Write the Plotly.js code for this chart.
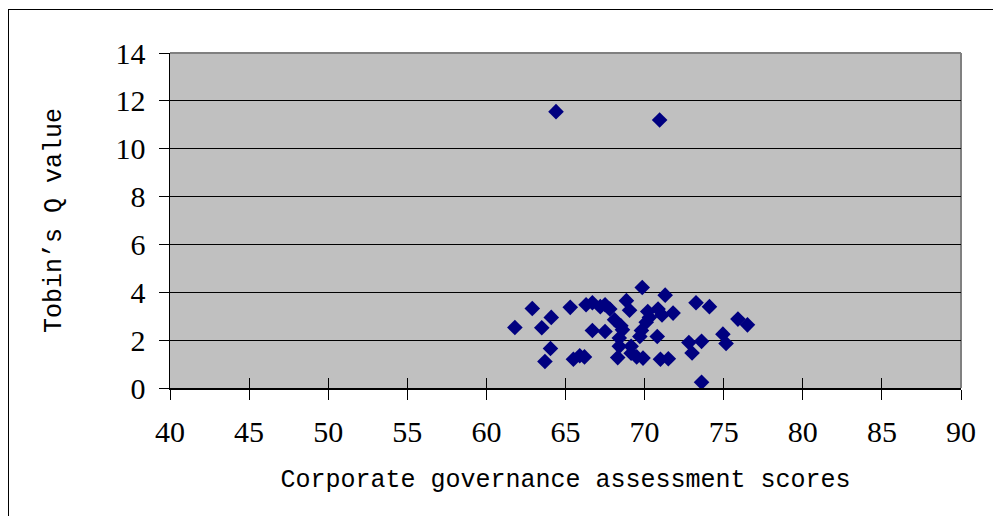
<!DOCTYPE html>
<html>
<head>
<meta charset="utf-8">
<script src="https://cdn.plot.ly/plotly-3.0.1.min.js"></script>
<style>
html,body{margin:0;padding:0;background:#fff;overflow:hidden;}
#wrap{position:relative;width:993px;height:516px;overflow:hidden;}
#chart{position:absolute;left:0;top:0;width:993px;height:516px;}
#frame{position:absolute;left:8px;top:9px;width:1100px;height:1100px;border-left:1.5px solid #000;border-top:1.5px solid #000;pointer-events:none;}
</style>
</head>
<body>
<div id="wrap"><div id="chart"></div><div id="frame"></div></div>
<script>
const xTitle = "Corporate governance assessment scores";
const yTitle = "Tobin\u2019s Q value";
const xTicks = [40,45,50,55,60,65,70,75,80,85,90];
const yTicks = [0,2,4,6,8,10,12,14];

const scores = [61.8,62.9,63.5,63.7,64.05,64.1,64.4,65.3,65.5,65.9,66.2,66.3,66.7,66.7,67.2,67.5,67.5,67.8,68.1,68.3,68.4,68.4,68.6,68.5,68.85,69.05,69.15,69.15,69.5,69.85,69.9,69.7,69.8,70.1,70.2,70.3,70.85,71.1,70.8,70.95,71.0,71.5,71.3,71.8,72.8,73.0,73.25,73.6,73.6,74.1,74.95,75.15,75.9,76.5];
const tobinQ = [2.53,3.32,2.52,1.11,1.65,2.95,11.55,3.37,1.2,1.35,1.3,3.48,3.56,2.4,3.4,3.48,2.36,3.3,2.85,1.27,2.09,1.74,2.43,2.6,3.65,3.25,1.74,1.45,1.3,4.2,1.25,2.15,2.4,2.75,3.2,2.95,3.3,3.05,2.15,11.2,1.2,1.22,3.88,3.13,1.9,1.46,3.56,1.95,0.24,3.4,2.25,1.86,2.88,2.64];

const tickFont = {family:"Liberation Serif, Times New Roman, serif", size:30, color:"#000"};
const titleFont = {family:"Liberation Mono, monospace", size:25, color:"#000"};

const data = [{
  type:"scatter", mode:"markers", x:scores, y:tobinQ,
  marker:{symbol:"diamond", size:12, color:"#000080", line:{width:0}},
  hoverinfo:"x+y"
},{
  type:"scatter", mode:"markers", x:[], y:[], xaxis:"x2", yaxis:"y2", showlegend:false
}];

const layout = {
  width:993, height:516,
  margin:{l:170, r:32, t:53, b:128},
  paper_bgcolor:"rgba(0,0,0,0)",
  plot_bgcolor:"#c0c0c0",
  showlegend:false,
  xaxis:{
    range:[40,90], tickvals:xTicks, ticktext:xTicks.map(String),
    ticks:"outside", ticklen:10, tickwidth:1, tickcolor:"#000",
    showline:true, linecolor:"#000", linewidth:2,
    showgrid:false, zeroline:false,
    tickfont:tickFont, ticklabelstandoff:6,
    title:{text:xTitle, font:titleFont, standoff:22}
  },
  yaxis:{
    range:[0,14], tickvals:yTicks, ticktext:yTicks.map(String),
    ticks:"outside", ticklen:10, tickwidth:1, tickcolor:"#000",
    showline:true, linecolor:"#000", linewidth:1.5,
    showgrid:true, gridcolor:"#000", gridwidth:1,
    zeroline:false,
    tickfont:tickFont, ticklabelstandoff:7,
    title:{text:yTitle, font:titleFont, standoff:47}
  },
  xaxis2:{range:[40,90], overlaying:"x", anchor:"y", tickvals:xTicks, ticks:"inside", ticklen:10, tickcolor:"#000", showticklabels:false, showgrid:false, zeroline:false, showline:false},
  yaxis2:{range:[0,14], overlaying:"y", anchor:"x", tickvals:yTicks, ticks:"inside", ticklen:10, tickcolor:"#000", showticklabels:false, showgrid:false, zeroline:false, showline:false},
  shapes:[
    {type:"line", xref:"paper", yref:"paper", x0:0, x1:1, y0:1, y1:1, line:{color:"#808080", width:2}, layer:"below"},
    {type:"line", xref:"paper", yref:"paper", x0:1, x1:1, y0:0, y1:1, line:{color:"#808080", width:2}, layer:"below"}
  ]
};

Plotly.newPlot("chart", data, layout, {staticPlot:true, displayModeBar:false});
</script>
</body>
</html>
